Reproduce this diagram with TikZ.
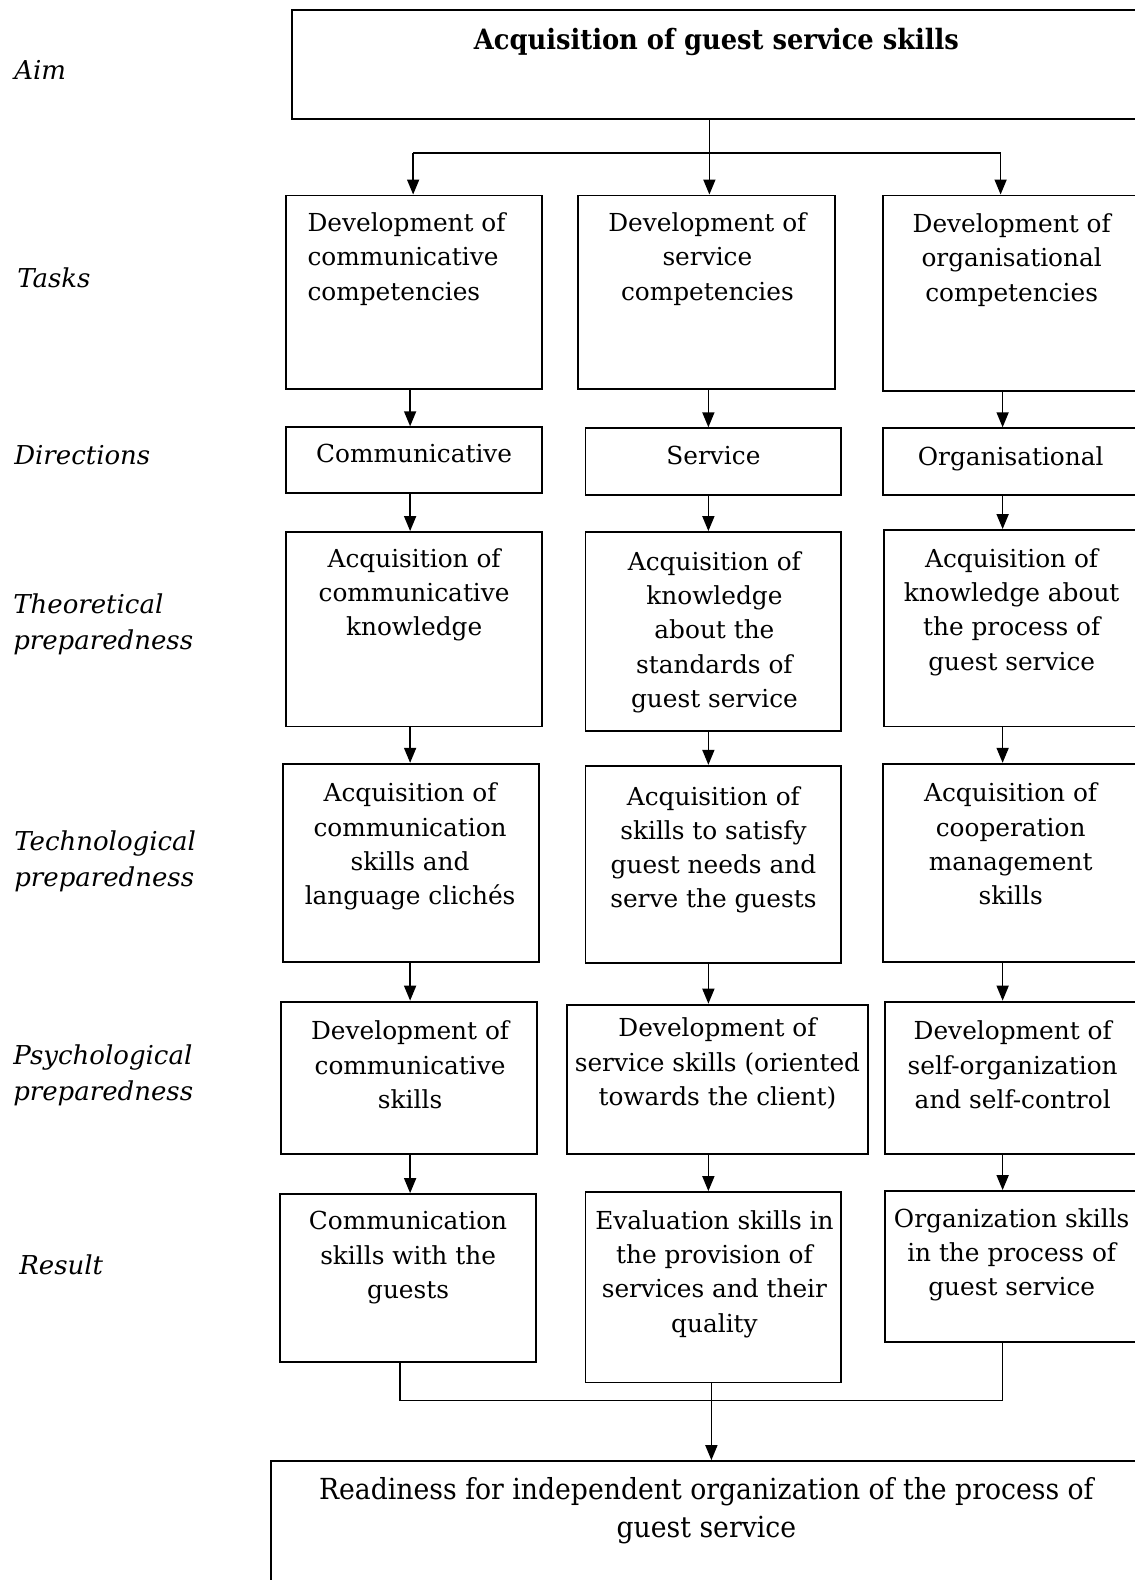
\documentclass[tikz,border=0pt]{standalone}
\usepackage{fontspec}
\setmainfont{DejaVu Serif}
\newfontfamily\condfont[FakeStretch=0.92]{DejaVu Serif}
\newfontfamily\finfont[FakeStretch=0.92]{DejaVu Serif}
\usetikzlibrary{arrows.meta,fit}
\tikzset{
  box/.style={draw, inner sep=0pt, line width=1.9pt},
  txt/.style={align=center, inner sep=0pt, anchor=north, font=\fontsize{24.8}{34.3}\selectfont},
  lbl/.style={align=left, inner sep=0pt, anchor=north west, font=\fontsize{26}{36}\selectfont\itshape},
  ttl/.style={inner sep=0pt, anchor=north, font=\fontsize{28}{30}\selectfont\condfont\bfseries},
  fin/.style={align=center, inner sep=0pt, anchor=north, font=\fontsize{29}{38.5}\selectfont\finfont},
  arr/.style={line width=1.6pt, -{Triangle[length=15pt,width=12pt]}},
  ln/.style={line width=1.6pt}
}
\begin{document}
\begin{tikzpicture}[x={(1.008pt,0)}, y={(0,-1.008pt)}]
\useasboundingbox (0,0) rectangle (1126,1568);
% column x positions
\coordinate (c1) at (407,0);
\coordinate (c2) at (703,0);
\coordinate (c3) at (995,0);
% left labels
\node[lbl] (lAim) at (14,60) {Aim};
\node[lbl] (lTasks) at (17,266) {Tasks};
\node[lbl] (lDir) at (14,442) {Directions};
\node[lbl] (lTheo) at (13,589) {Theoretical\\preparedness};
\node[lbl] (lTech) at (14,824) {Technological\\preparedness};
\node[lbl] (lPsy) at (13,1037) {Psychological\\preparedness};
\node[lbl] (lRes) at (19,1245) {Result};
% aim
\node[box, fit={(290,10)(1145,118)}] (aim) {};
\node[ttl] (aimt) at (711,28) {Acquisition of guest service skills};
% tasks
\node[box, fit={(284,194)(538,386)}] (t1) {};
\node[txt, align=left, anchor=north west] (t1t) at (305,211) {Development of\\communicative\\competencies};
\node[box, fit={(574,194)(829,386)}] (t2) {};
\node[txt] (t2t) at (702,211) {Development of\\service\\competencies};
\node[box, fit={(876,194)(1145,388)}] (t3) {};
\node[txt] (t3t) at (1004,212) {Development of\\organisational\\competencies};
% directions
\node[box, fit={(284,424)(538,489)}] (d1) {};
\node[txt] (d1t) at (411,441) {Communicative};
\node[box, fit={(581,425)(835,491)}] (d2) {};
\node[txt] (d2t) at (708,443) {Service};
\node[box, fit={(876,425)(1145,491)}] (d3) {};
\node[txt] (d3t) at (1003,443) {Organisational};
% theoretical
\node[box, fit={(284,528)(538,721)}] (h1) {};
\node[txt] (h1t) at (411,544) {Acquisition of\\communicative\\knowledge};
\node[box, fit={(581,528)(835,725)}] (h2) {};
\node[txt] (h2t) at (709,547) {Acquisition of\\knowledge\\about the\\standards of\\guest service};
\node[box, fit={(877,526)(1145,721)}] (h3) {};
\node[txt] (h3t) at (1004,544) {Acquisition of\\knowledge about\\the process of\\guest service};
% technological
\node[box, fit={(281,758)(535,955)}] (e1) {};
\node[txt] (e1t) at (407,777) {Acquisition of\\communication\\skills and\\language clichés};
\node[box, fit={(581,760)(835,956)}] (e2) {};
\node[txt] (e2t) at (708,780) {Acquisition of\\skills to satisfy\\guest needs and\\serve the guests};
\node[box, fit={(876,758)(1145,955)}] (e3) {};
\node[txt] (e3t) at (1003,777) {Acquisition of\\cooperation\\management\\skills};
% psychological
\node[box, fit={(279,994)(533,1145)}] (p1) {};
\node[txt] (p1t) at (407,1013) {Development of\\communicative\\skills};
\node[box, fit={(563,997)(861,1145)}] (p2) {};
\node[txt] (p2t) at (712,1010) {Development of\\service skills (oriented\\towards the client)};
\node[box, fit={(878,994)(1145,1145)}] (p3) {};
\node[txt] (p3t) at (1005,1013) {Development of\\self-organization\\and self-control};
% result
\node[box, fit={(278,1185)(532,1352)}] (r1) {};
\node[txt] (r1t) at (405,1202) {Communication\\skills with the\\guests};
\node[box, fit={(581,1183)(835,1372)}] (r2) {};
\node[txt] (r2t) at (709,1201) {Evaluation skills in\\the provision of\\services and their\\quality};
\node[box, fit={(878,1182)(1145,1332)}] (r3) {};
\node[txt] (r3t) at (1004,1199) {Organization skills\\in the process of\\guest service};
% final
\node[box, fit={(269,1450)(1145,1600)}] (fin) {};
\node[fin] (fint) at (701,1466) {Readiness for independent organization of the process of\\guest service};
% connectors: aim to tasks
\coordinate (j1) at (410,152);
\coordinate (j3) at (993,152);
\coordinate (jm) at (704,0);
\draw[arr] (aim.south -| jm) -- (t2.north -| jm);
\draw[ln] (j1) -- (j3);
\draw[arr] (j1) -- (t1.north -| j1);
\draw[arr] (j3) -- (t3.north -| j3);
% column arrows
\foreach \a/\b/\c in {t1/d1/c1, d1/h1/c1, h1/e1/c1, e1/p1/c1, p1/r1/c1,
                      t2/d2/c2, d2/h2/c2, h2/e2/c2, e2/p2/c2, p2/r2/c2,
                      t3/d3/c3, d3/h3/c3, h3/e3/c3, e3/p3/c3, p3/r3/c3}
  \draw[arr] (\a.south -| \c) -- (\b.north -| \c);
% result join
\coordinate (b1) at (397,1390);
\coordinate (b3) at (995,1390);
\draw[ln] (r1.south -| b1) -- (b1) -- (b3) -- (r3.south -| b3);
\coordinate (b2) at (706,0);
\draw[arr] (r2.south -| b2) -- (fin.north -| b2);
\end{tikzpicture}
\end{document}
